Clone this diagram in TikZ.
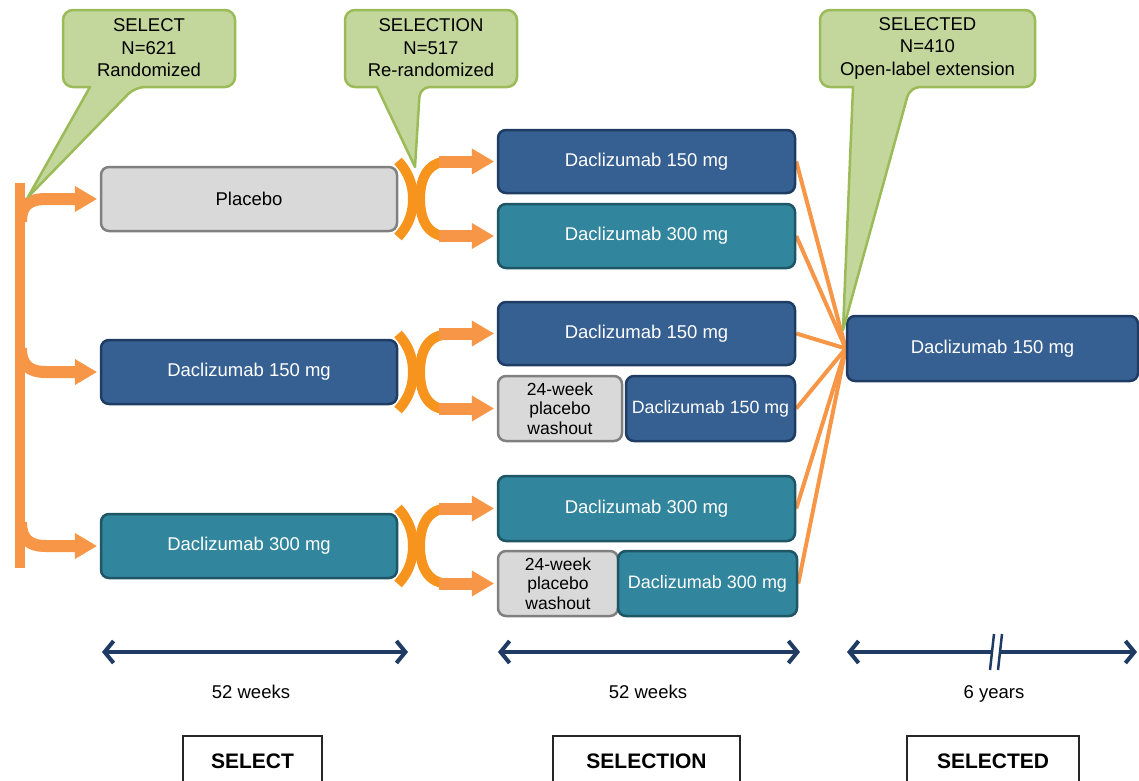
\documentclass[tikz,border=0pt]{standalone}
\usepackage{fontspec}
\setmainfont{Liberation Sans}
\usetikzlibrary{arrows.meta,calc,backgrounds}
\definecolor{dblue}{HTML}{376092}
\definecolor{dbluebd}{HTML}{1F3D64}
\definecolor{teal1}{HTML}{31859C}
\definecolor{tealbd}{HTML}{1E5666}
\definecolor{grayf}{HTML}{D9D9D9}
\definecolor{graybd}{HTML}{808080}
\definecolor{orA}{HTML}{F79646}
\definecolor{orB}{HTML}{F7941D}
\definecolor{cfill}{HTML}{C3D69B}
\definecolor{cbord}{HTML}{9BBB59}
\definecolor{navy}{HTML}{1F3B63}
\begin{document}
\begin{tikzpicture}[x=1pt,y=-1pt,
 box/.style={draw, rounded corners=8pt, line width=2.5pt, inner sep=0pt, align=center, font=\fontsize{18.5}{21}\selectfont},
 bluebox/.style={box, fill=dblue, draw=dbluebd, text=white},
 tealbox/.style={box, fill=teal1, draw=tealbd, text=white},
 graybox/.style={box, fill=grayf, draw=graybd, text=black},
 washbox/.style={graybox, font=\fontsize{17.5}{19.5}\selectfont},
 ctext/.style={align=center, font=\fontsize{18.5}{22.5}\selectfont, inner sep=0pt},
 callout/.style={fill=cfill, draw=cbord, line width=2.5pt, line join=round},
 oarrow/.style={draw=orA, line width=12pt, -{Triangle[length=22pt,width=26pt,line width=0.5pt]}, shorten >=3pt},
 brace/.style={draw=orB, line width=10pt},
 trunk/.style={draw=orA, line width=10pt},
 conn/.style={draw=orA, line width=4pt},
 tline/.style={draw=navy, line width=4pt, {Straight Barb[length=9pt,width=22pt]}-{Straight Barb[length=9pt,width=22pt]}},
 lbl/.style={font=\fontsize{18.5}{21}\selectfont, inner sep=0pt, anchor=base},
 phase/.style={draw=black!85, line width=1.8pt, minimum height=50pt, anchor=north, font=\fontsize{21}{24}\bfseries\selectfont, inner sep=0pt}
]
\useasboundingbox (0,0) rectangle (1139,780);

% left boxes
\node[graybox, minimum width=296pt, minimum height=64pt] (L1) at (249,199) {Placebo};
\node[bluebox, minimum width=296pt, minimum height=64pt] (L2) at (249,372) {Daclizumab 150 mg};
\node[tealbox, minimum width=296pt, minimum height=64pt] (L3) at (249,546) {Daclizumab 300 mg};

% middle boxes
\node[bluebox, minimum width=297pt, minimum height=63pt] (M1) at (646.5,161.5) {Daclizumab 150 mg};
\node[tealbox, minimum width=297pt, minimum height=64pt] (M2) at (646.5,236) {Daclizumab 300 mg};
\node[bluebox, minimum width=297pt, minimum height=63pt] (M3) at (646.5,333.5) {Daclizumab 150 mg};
\node[washbox, minimum width=124pt, minimum height=65pt] (W1) at (560,408.5) {24-week\\placebo\\washout};
\node[bluebox, minimum width=169pt, minimum height=65pt, font=\fontsize{17.8}{21}\selectfont] (M4) at (710.5,408.5) {Daclizumab 150 mg};
\node[tealbox, minimum width=297pt, minimum height=65pt] (M5) at (646.5,508.5) {Daclizumab 300 mg};
\node[washbox, minimum width=120pt, minimum height=65pt] (W2) at (558,583.5) {24-week\\placebo\\washout};
\node[tealbox, minimum width=179pt, minimum height=65pt, font=\fontsize{18}{21}\selectfont] (M6) at (707.5,583.5) {Daclizumab 300 mg};

% right box
\node[bluebox, minimum width=291pt, minimum height=65pt] (R) at (992.5,348.5) {Daclizumab 150 mg};

% connectors to right box
\begin{scope}[on background layer]
\foreach \n in {M1,M2,M3,M4,M5,M6} \draw[conn] (\n.east) -- (R.west);
\end{scope}

% trunk and branches
\coordinate (T0) at (20,183);
\coordinate (T1) at (20,568);
\coordinate (b1) at (21,222);
\coordinate (b2) at (21,348);
\coordinate (b3) at (21,522);
\draw[oarrow] (b1) .. controls (21,206) and (28,199) .. (46,199) -- (L1.west);
\draw[oarrow] (b2) .. controls (21,364) and (28,372) .. (46,372) -- (L2.west);
\draw[oarrow] (b3) .. controls (21,538) and (28,546) .. (46,546) -- (L3.west);
\draw[trunk] (T0) -- (T1);

% braces and re-randomization arrows
\foreach \c/\a/\b in {199/M1/M2, 372/M3/W1, 546/M5/W2} {
  \draw[brace] (398,{\c-38}) .. controls (411,{\c-24}) and (413,{\c-10}) .. (413,\c) .. controls (413,{\c+10}) and (411,{\c+24}) .. (398,{\c+38});
  \draw[brace] (446,{\c-37.5}) .. controls (426,{\c-36}) and (420,{\c-18}) .. (420,\c) .. controls (420,{\c+18}) and (426,{\c+36}) .. (446,{\c+37.5});
  \fill[orB] (412,{\c-12}) rectangle (421,{\c+12});
  \draw[oarrow] ($(\a.west)+(-58,0)$) -- (\a.west);
  \draw[oarrow] ($(\b.west)+(-58,0)$) -- (\b.west);
}

% timelines
\coordinate (a1s) at (102,652); \coordinate (a1e) at (408,652);
\coordinate (a2s) at (498,652); \coordinate (a2e) at (800,652);
\coordinate (a3s) at (847,652); \coordinate (a3e) at (1137,652);
\draw[tline] (a1s) -- (a1e);
\draw[tline] (a2s) -- (a2e);
\draw[tline] (a3s) -- (a3e);
\fill[white] (991,669) -- (997,669) -- (1001,635) -- (995,635) -- cycle;
\draw[navy, line width=2.5pt] (990,670) -- (994,634);
\draw[navy, line width=2.5pt] (998,670) -- (1002,634);

\node[lbl] (w1) at (251,698) {52 weeks};
\node[lbl] (w2) at (648,698) {52 weeks};
\node[lbl] (w3) at (994,698) {6 years};

% phase boxes
\node[phase, minimum width=139pt] (p1) at (252.5,735) {SELECT};
\node[phase, minimum width=187pt] (p2) at (646.5,735) {SELECTION};
\node[phase, minimum width=172pt] (p3) at (993,735) {SELECTED};

% callouts
\filldraw[callout] (90,87) [rounded corners=10pt] -- (63,87) -- (63,10) -- (235,10) -- (235,87) -- (135,87) [sharp corners] -- (28,197) -- cycle;
\node[ctext] (c1) at (149,48) {SELECT\\N=621\\Randomized};
\filldraw[callout] (377,87) [rounded corners=10pt] -- (345,87) -- (345,10) -- (517,10) -- (517,87) -- (420,87) [sharp corners] -- (415,167) -- cycle;
\node[ctext] (c2) at (431,48) {SELECTION\\N=517\\Re-randomized};
\filldraw[callout] (853,87) [rounded corners=10pt] -- (820,87) -- (820,10) -- (1035,10) -- (1035,87) -- (910,87) [sharp corners] -- (843,330) -- cycle;
\node[ctext] (c3) at (927.5,48) {SELECTED\\N=410\\Open-label extension};
\end{tikzpicture}
\end{document}
